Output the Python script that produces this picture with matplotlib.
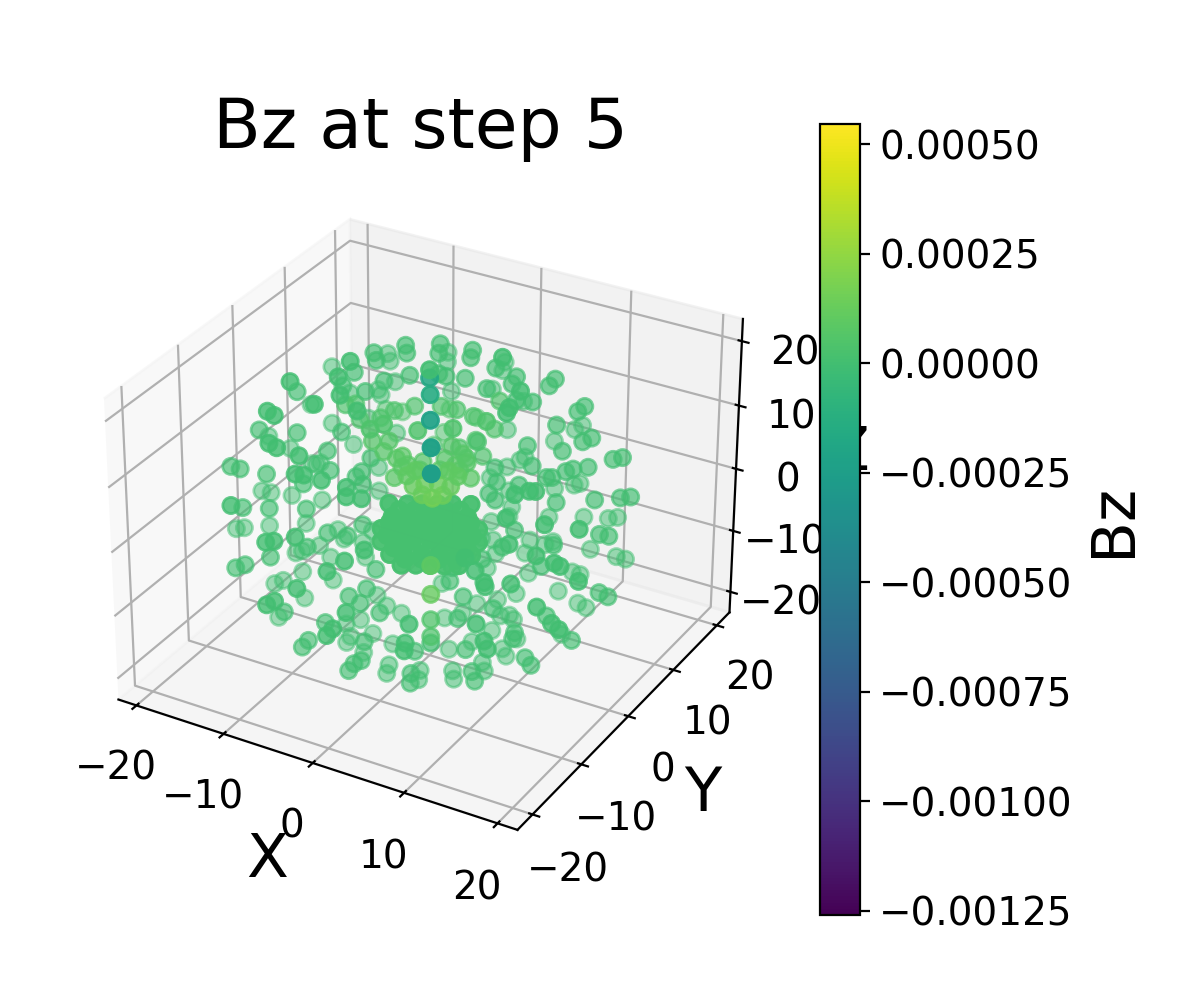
import numpy as np
import matplotlib
matplotlib.use("Agg")
import matplotlib.pyplot as plt

# (x, y, z), outer shells, Bz about 0
shell_points = [
    (-15.1, 5.8, 13.1), (-8.1, -2.3, 20.8), (-10.2, 2.1, 16.0), (-8.8, -3.6, 19.0), (-10.9, 0.9, 14.4),
    (-12.8, 5.6, 10.0), (-8.7, 1.8, 13.8), (-8.2, -4.3, 16.9), (-6.3, -4.1, 15.1), (-10.5, 5.5, 7.0),
    (-8.9, 4.0, 18.3), (-8.5, 3.8, 17.4), (-10.3, 9.4, 14.7), (-9.9, 9.2, 13.8), (-6.2, 6.0, 19.2),
    (-5.9, 5.7, 18.3), (-5.1, 4.9, 15.7), (-8.9, 8.5, 11.4), (-7.3, 3.3, 15.0), (-10.3, 7.3, 10.4),
    (-9.9, 7.2, 9.8), (-13.0, -6.3, 18.4), (-14.9, -1.8, 13.7), (-16.1, 3.0, 8.6), (-10.3, -6.0, 15.8),
    (-13.7, 3.3, 6.4), (-9.9, -1.2, 9.0), (-11.2, 3.5, 3.9), (-14.3, -8.8, 15.0), (-13.6, -8.6, 14.5),
    (-17.4, -5.5, 9.2), (-19.2, -0.7, 4.8), (-13.9, -3.6, 8.9), (-13.4, -10.1, 11.3), (-12.6, -9.9, 10.8),
    (-16.9, -0.1, 3.4), (-10.7, -2.8, 6.8), (-10.4, -9.1, 9.9), (-14.5, 0.4, 1.6), (-13.8, 0.9, 1.7),
    (-14.1, 0.6, 1.5), (-10.0, -3.5, 4.5), (-19.1, -8.6, 4.9), (-18.2, -8.2, 4.6), (-15.7, -7.0, 4.0),
    (-10.3, -10.1, 7.8), (-9.5, -9.7, 7.7), (-12.1, -5.5, 2.9), (-7.8, -9.0, 7.1), (-18.5, -3.5, -1.7),
    (-17.6, -3.1, -1.9), (-15.6, -2.1, -2.2), (-12.7, -0.7, -2.7), (-15.3, -14.8, 4.1), (-17.0, -9.8, 0.1),
    (-14.6, -8.4, 0.0), (-11.2, -6.5, 0.0), (-7.1, -1.9, 4.4), (-7.5, -2.4, 3.8), (-6.7, -2.4, 2.9),
    (-5.4, -8.0, 6.3), (-5.2, -8.4, 5.2), (-3.8, -7.7, 5.0), (-6.6, -0.8, 6.0), (-8.3, 3.8, 1.2),
    (-7.5, 6.3, 5.3), (-7.7, 2.8, -1.6),
    (-19.9, -6.6, -6.2), (-19.2, -6.1, -6.1), (-16.9, -4.7, -5.8), (-13.6, -2.6, -5.5), (-8.7, -6.4, -2.8),
    (-10.5, -1.2, -6.2), (-6.8, -5.5, -3.1), (-9.7, -1.3, -7.3), (-5.7, -4.2, -1.8), (-7.3, 0.6, -6.3),
    (-11.3, -14.6, -0.1), (-10.6, -14.1, 0.0), (-8.8, -12.8, 0.5), (-13.3, -10.5, -5.7), (-10.2, -8.1, -4.5),
    (-11.8, -2.9, -8.1), (-13.8, -4.5, -9.0), (-13.3, -4.0, -8.8), (-10.5, -2.8, -9.5), (-7.9, -0.4, -7.7),
    (-2.3, -9.8, -0.9), (-7.3, -0.9, -9.5), (-3.8, -11.3, -2.2), (-16.2, -12.8, -7.0), (-15.4, -12.2, -6.6),
    (-15.0, -7.0, -12.7), (-14.3, -6.4, -12.3), (-12.7, -5.0, -11.2), (-5.1, -12.7, -3.4), (-9.7, -3.7, -12.2),
    (-7.4, -15.0, -5.4), (-11.9, -6.0, -14.4), (-9.7, -17.3, -7.3), (-9.1, -16.7, -6.9), (-10.7, -12.2, -12.1),
    (-13.8, -8.3, -16.7), (-5.2, -8.1, -10.2), (-4.0, -7.8, -11.0), (-3.8, -6.8, -9.3), (-5.3, -2.0, -14.0),
    (-3.4, -5.5, -7.0), (-2.4, -13.5, -8.1), (-6.2, -4.0, -16.9), (-7.4, -5.0, -17.4), (-2.0, -7.2, -12.1),
    (-4.1, -2.0, -15.2), (-6.7, -10.5, -13.3), (-3.2, -14.9, -10.0), (-3.6, -15.5, -10.8), (-6.7, -5.3, -18.9),
    (-6.9, -5.8, -19.6), (-2.7, -9.3, -15.5), (-4.7, -4.0, -18.5), (-7.8, -12.2, -15.4), (-8.2, -12.8, -16.2),
    (-2.6, -3.4, -19.7), (3.6, -11.7, -11.6), (3.7, -12.1, -12.5), (2.1, -7.0, -16.6), (-5.1, -5.3, -20.8),
    (-2.5, -10.3, -17.7), (-3.1, -10.8, -18.1), (-3.4, -11.4, -18.9), (-1.6, -6.0, -20.9), (-1.6, -6.5, -21.9),
    (2.3, -8.2, -19.2), (1.4, -4.6, -21.5), (1.5, -5.1, -22.6), (2.5, -8.7, -20.3), (-2.6, -1.5, -16.1),
    (3.5, -10.7, -9.4),
    (-3.1, 7.9, 19.4), (-3.0, 7.4, 18.3), (-4.8, 12.7, 14.9), (-4.6, 12.2, 13.8), (0.0, 9.3, 18.7),
    (0.0, 8.9, 17.8), (0.7, 15.3, 13.8), (5.4, 5.8, 21.4), (0.7, 14.8, 12.8), (2.5, 9.8, 16.6),
    (4.6, 10.5, 15.6), (4.4, 9.9, 14.8), (0.0, 7.7, 15.4), (-3.5, 11.1, 10.3), (0.2, 13.4, 10.6),
    (2.2, 8.4, 14.2), (-2.5, 6.5, 15.9), (-1.8, 6.8, 15.6), (6.7, 10.2, 12.7), (3.4, 14.5, 9.2),
    (7.8, 5.3, 17.5), (5.2, 9.4, 12.9), (8.2, 12.4, 15.4), (7.8, 11.8, 14.6), (7.2, 4.0, 15.6),
    (7.1, 3.6, 15.0), (2.6, 12.4, 5.8), (11.5, 12.8, 12.2), (11.0, 12.2, 11.6), (9.4, 16.6, 6.4),
    (8.8, 16.0, 5.9), (9.4, 10.5, 10.0), (7.2, 14.4, 4.5), (12.9, 11.8, 8.5), (12.2, 11.1, 8.1),
    (10.6, 9.6, 7.0), (7.3, 8.0, 7.6), (4.9, 12.1, 2.6), (4.5, 11.7, 2.2), (8.2, 7.4, 5.2),
    (3.5, 10.7, 1.4), (16.2, 12.5, 6.3), (15.4, 11.9, 6.1), (4.9, 5.3, 5.0), (2.2, 9.3, 0.1),
    (5.4, 4.8, 3.3), (13.3, 10.3, 5.1), (12.0, 9.4, 4.9), (11.4, 8.9, 4.6), (10.3, 7.9, 3.9),
    (9.8, 7.6, 3.9), (8.4, 12.3, -1.1), (10.6, 13.9, -0.5), (10.1, 13.5, -0.7), (4.3, 9.7, -1.4),
    (7.5, 5.8, 3.0), (9.8, 0.5, 5.6), (5.0, 3.8, 2.0), (5.7, 3.9, 1.2), (11.0, 1.4, 6.0),
    (11.6, 1.7, 6.0), (4.9, 9.2, -3.4), (11.3, 7.0, 1.0), (8.6, 10.7, -4.5), (14.7, 9.2, 1.3),
    (17.0, 10.6, 1.6), (17.9, 11.2, 1.7), (11.8, 12.6, -4.5), (14.1, 13.8, -4.6), (14.9, 14.4, -4.5),
    (4.9, 8.6, -4.5), (3.4, 7.4, -5.1), (9.6, -1.0, 2.9),
    (13.2, 0.7, 2.2), (16.4, 2.3, 1.7), (16.0, 7.9, -2.7), (16.9, 8.3, -2.9), (13.2, 11.5, -8.3),
    (15.8, 12.5, -9.1), (16.7, 12.9, -9.4), (9.6, 9.8, -7.4), (8.9, 9.3, -7.8), (12.1, 5.0, -4.0),
    (7.4, 8.7, -7.3), (8.2, 3.6, -2.3), (4.0, 6.7, -7.3), (10.5, -2.0, -0.1), (7.5, 2.2, -4.3),
    (4.6, 6.2, -8.9), (2.9, 6.2, -7.1), (7.3, 7.8, -8.8), (13.2, -1.1, -1.4), (11.5, 3.4, -6.5),
    (15.0, -0.5, -2.2), (15.6, -0.3, -2.6), (8.1, 7.1, -11.2), (6.0, 0.6, -5.7), (4.2, 5.1, -10.6),
    (6.9, -4.9, -1.7), (3.5, -1.4, -6.7), (8.1, -4.9, -3.2), (9.2, -5.0, -4.5), (9.4, -5.1, -5.0),
    (11.6, -3.6, -4.7), (7.5, 5.5, -13.6), (12.1, 9.5, -11.0), (12.9, 9.8, -11.3), (17.6, 0.0, -4.3),
    (11.3, 7.9, -13.3), (17.4, 5.3, -9.5), (18.3, 5.6, -10.0), (13.4, 8.4, -14.7), (14.3, 8.6, -15.2),
    (5.2, -2.1, -10.1), (4.1, 3.0, -14.9), (5.9, 4.3, -14.4), (8.2, -1.0, -11.5), (14.5, -3.3, -7.3),
    (13.2, 1.5, -12.3), (16.2, -3.2, -9.2), (17.0, -3.1, -9.9), (12.7, 6.1, -18.4), (16.1, 1.7, -15.1),
    (7.4, 4.2, -16.2), (7.9, 4.2, -16.7), (6.6, 3.7, -16.3), (1.5, 0.6, -16.6), (5.2, -3.3, -12.7),
    (3.0, 1.8, -16.0), (9.5, -7.2, -9.3), (6.2, 2.5, -18.0), (10.7, -0.9, -14.3), (10.7, -1.3, -15.0),
    (8.7, 3.5, -19.0), (4.6, 1.0, -19.4), (10.6, -7.5, -11.3), (11.1, -7.7, -12.2), (7.6, 2.3, -20.2),
    (8.1, 2.2, -21.1), (12.3, -1.5, -17.2), (13.0, -1.5, -18.1), (2.7, -0.6, -20.3), (6.7, -4.3, -16.3),
    (6.9, -0.9, -20.5), (7.3, -1.2, -21.5), (4.4, -2.9, -21.5), (4.7, -3.2, -22.5), (7.8, -4.9, -18.9),
    (8.3, -5.2, -20.0), (0.4, 2.0, -12.5), (3.6, -2.1, -8.3),
]
shell_bz = [0.0] * len(shell_points)

# upper cap, a touch lighter
upper_points = [
    (-10.2, 0.2, 12.2), (-9.3, 0.8, 12.3), (-8.5, 0.3, 10.5), (-6.7, 1.5, 10.7), (-5.6, 2.5, 11.6),
    (-3.9, 3.8, 12.1), (-3.6, -3.3, 13.6), (-4.7, -4.2, 13.0), (-0.4, -1.8, 12.9), (-9.1, 6.8, 8.1),
    (-7.5, 7.6, 7.8), (0.0, 5.9, 11.7), (-3.2, 10.2, 8.2), (-1.5, 5.2, 12.1), (-0.5, 11.3, 7.2),
    (1.7, 6.4, 11.0), (3.9, 7.0, 9.5), (5.5, 2.2, 14.0), (2.7, 0.1, 13.2), (-3.2, 8.9, 5.4),
    (2.5, 5.5, 8.2), (-3.8, 7.8, 3.9), (3.5, 5.2, 6.3), (1.2, 4.3, 7.3), (2.1, 4.2, 6.1),
    (3.7, 8.5, 12.8),
]
upper_bz = [0.00004] * len(upper_points)

# ring just above the centre
ring_points = [
    (-6.0, -1.5, 9.2), (-4.5, -0.6, 9.2), (-4.7, -1.4, 8.0), (-3.4, -1.0, 7.2), (-2.9, -0.6, 7.5),
    (-2.7, -1.1, 6.2), (-0.9, 0.2, 6.9), (1.0, 1.5, 7.2), (2.5, 2.7, 7.8), (3.1, 2.5, 6.8),
    (1.3, 2.4, 8.7), (3.5, 4.0, 9.2), (2.6, 1.8, 5.9),
    (-3.1, -2.0, 5.0), (-2.2, -0.7, 6.5), (-1.0, -0.3, 5.9), (0.8, 0.8, 5.9), (2.1, 1.8, 6.5),
    (3.8, 2.0, 5.0),
]
ring_bz = [0.00006, 0.00006, 0.00007, 0.00008, 0.00008, 0.00008, 0.00007, 0.00007, 0.00007, 0.00007,
           0.00006, 0.00003, 0.00008,
           0.00008, 0.00008, 0.00008, 0.00008, 0.00008, 0.00008]

# dense centre
blob_points = [
    (-1.0, -4.7, 2.5), (0.4, -3.9, 2.5), (1.8, -3.1, 2.5), (3.1, -2.3, 2.5), (4.5, -1.5, 2.5),
    (-1.6, -5.7, 1.0), (-0.4, -5.1, 1.0), (0.9, -4.3, 1.0), (2.1, -3.6, 1.0), (3.3, -3.0, 1.0),
    (4.5, -2.2, 1.0), (5.7, -1.5, 1.0),
    (-1.5, -6.4, -0.5), (-0.2, -5.7, -0.5), (1.1, -4.9, -0.5), (2.4, -4.2, -0.5), (3.7, -3.5, -0.5),
    (5.0, -2.7, -0.5), (6.2, -2.0, -0.5),
    (-0.6, -6.6, -1.9), (1.1, -5.7, -1.9), (2.7, -4.7, -1.9), (4.4, -3.8, -1.9), (6.0, -2.8, -1.9),
    (0.7, -6.5, -3.2), (2.2, -5.6, -3.2), (3.7, -4.8, -3.2), (5.3, -3.9, -3.2),
    (-2.1, -4.9, 3.2), (-0.4, -4.0, 3.2), (0.9, -3.2, 3.2), (2.3, -2.4, 3.2), (3.6, -1.6, 3.2),
    (5.3, -0.7, 3.2),
    (-1.5, -5.3, 1.7), (-0.1, -4.5, 1.7), (1.3, -3.7, 1.7), (2.5, -3.0, 1.7), (3.9, -2.2, 1.7),
    (5.3, -1.4, 1.7),
    (-2.2, -6.4, 0.3), (-0.9, -5.7, 0.3), (0.4, -5.0, 0.3), (1.6, -4.3, 0.3), (2.8, -3.5, 0.3),
    (4.0, -2.8, 0.3), (5.3, -2.1, 0.3), (6.6, -1.4, 0.3),
    (-1.9, -7.0, -1.2), (-0.5, -6.2, -1.2), (0.6, -5.6, -1.2), (1.9, -4.9, -1.2), (3.1, -4.1, -1.2),
    (4.4, -3.4, -1.2), (5.5, -2.8, -1.2), (6.9, -2.0, -1.2),
    (-0.8, -7.1, -2.7), (0.4, -6.4, -2.7), (2.1, -5.5, -2.7), (3.7, -4.5, -2.7), (5.4, -3.6, -2.7),
    (6.6, -2.9, -2.7),
    (0.5, -7.0, -3.9), (1.8, -6.2, -3.9), (3.1, -5.5, -3.9), (4.4, -4.8, -3.9), (5.7, -4.0, -3.9),
    (-6.0, 10.3, -11.4),
]
blob_bz = [0.00001] * len(blob_points)

# light arc over the centre
arc_points = [
    (-0.7, -3.6, 7.1), (0.1, -3.7, 5.9), (1.1, -3.6, 4.9), (2.1, -3.2, 4.5), (3.0, -2.6, 4.9),
    (3.5, -1.8, 5.9), (3.9, -1.0, 7.1), (-0.1, -2.9, 7.7), (2.9, -1.2, 7.7), (1.1, -3.0, 6.1),
    (2.3, -2.3, 6.1),
]
arc_bz = [0.00010, 0.00012, 0.00014, 0.00017, 0.00014, 0.00012, 0.00010, 0.00010, 0.00010, 0.00013,
          0.00013]

# points along the z axis, nudged toward the viewer since they look opaque
column_points = [
    (0.0, 0.0, 21.0), (0.0, 0.0, 19.8), (0.9, -1.5, 18.5), (2.2, -3.8, 16.5), (3.5, -6.0, 14.2),
    (4.8, -8.3, 12.2), (4.3, -7.5, -2.2), (4.3, -7.5, -6.6), (4.3, -7.5, -10.5), (4.3, -7.5, -13.1),
    (4.3, -7.5, -14.1),
]
column_bz = [0.0, -0.00018, -0.00015, -0.00022, -0.00023, -0.00025, 0.00010, 0.00012, 0.00005, 0.00004,
             0.0]

ticks = [-20, -10, 0, 10, 20]
bz_min = -0.00126
bz_max = 0.000546

# my first read of the coordinates came out a bit wide
read_scale = np.array([0.93, 0.93, 1.03])

# centre points sit on several shells at once, so they stack up opaque
points = np.array(shell_points + upper_points + ring_points + blob_points * 2 + arc_points + column_points)
points = points * read_scale
bz = np.array(shell_bz + upper_bz + ring_bz + blob_bz * 2 + arc_bz + column_bz)

fig = plt.figure(figsize=(6, 5), dpi=200)
ax = fig.add_subplot(111, projection="3d")
ax.set_position([0.054, 0.103, 0.592, 0.755])

sc = ax.scatter(points[:, 0], points[:, 1], points[:, 2], c=bz, cmap="viridis",
                vmin=bz_min, vmax=bz_max, s=34)

ax.set_xlim(-22.1, 22.1)
ax.set_ylim(-23.0, 23.0)
ax.set_zlim(-23.4, 23.4)
ax.set_xticks(ticks)
ax.set_yticks(ticks)
ax.set_zticks(ticks)
ax.tick_params(labelsize=14)
ax.set_xlabel("X", fontsize=22)
ax.set_ylabel("Y", fontsize=22)
ax.set_zlabel("Z", fontsize=22)
ax.set_title("Bz at step 5", fontsize=25)

cax = fig.add_axes([0.6833, 0.085, 0.0333, 0.791])
cbar = fig.colorbar(sc, cax=cax)
cbar.set_label("Bz", fontsize=22)
cbar.ax.tick_params(labelsize=14)

fig.savefig("out.png")
